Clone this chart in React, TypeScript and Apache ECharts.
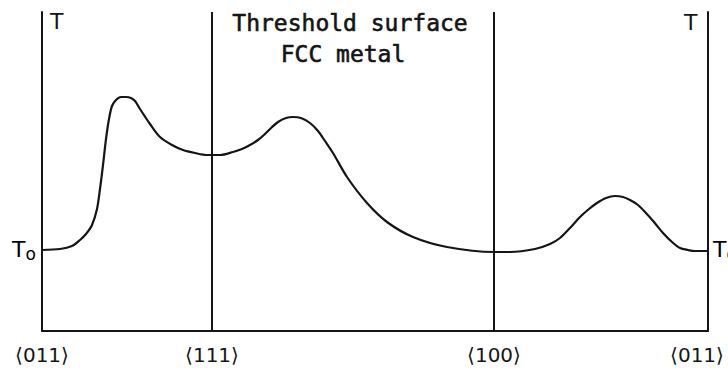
import React, { useEffect, useRef } from "react";
import * as echarts from "echarts";

// Orientation positions along the stereographic triangle edge (arbitrary units)
const orientationPositions = [0, 170, 452, 666];
const orientationLabels = ["⟨011⟩", "⟨111⟩", "⟨100⟩", "⟨011⟩"];

// Threshold energy curve (arbitrary units, T0 ≈ 81)
const curveX = [
  0, 18, 30, 38, 44, 50, 55, 58, 61, 64, 67, 70, 74, 79, 84, 89, 93, 98, 108, 118, 130, 141, 153, 165,
  178, 191, 200, 208, 216, 223, 229, 236, 244, 251, 259, 268, 276, 283, 291, 305, 325, 345, 371, 405, 452,
  468, 493, 508, 518, 528, 538, 547, 555, 564, 573, 581, 588, 596, 603, 612, 621, 630, 638, 646, 653, 666,
];
const curveY = [
  81, 82, 85, 91, 97, 106, 122, 142, 166, 192, 212, 225, 231, 234, 234, 233, 230, 222, 207, 194, 186, 181, 178, 176,
  176, 179, 182, 186, 191, 197, 203, 209, 213, 214, 213, 208, 200, 190, 178, 154, 128, 109, 94, 84, 79,
  79, 82, 87, 93, 103, 114, 122, 128, 133, 135, 134, 131, 126, 119, 109, 98, 89, 83, 81, 80, 80,
];

const title1 = "Threshold surface";
const title2 = "FCC metal";

export default function App() {
  const ref = useRef<HTMLDivElement>(null);
  useEffect(() => {
    if (!ref.current) return;
    const chart = echarts.init(ref.current, undefined, { renderer: "svg" });
    const ink = "#151515";
    const data = curveX.map((x, i) => [x, curveY[i]]);
    const t0Rich = {
      a: { fontFamily: "DejaVu Sans", fontSize: 22, color: ink },
      b: { fontFamily: "DejaVu Sans", fontSize: 17, color: ink, padding: [9, 0, 0, 0] },
    };
    const lastIdx = orientationPositions.length - 1;
    chart.setOption({
      animation: false,
      backgroundColor: "#ffffff",
      grid: { left: 42, right: 20, top: 12, bottom: 41, outerBoundsMode: "none", containLabel: false },
      xAxis: {
        type: "value",
        min: 0,
        max: 666,
        axisLine: { show: true, onZero: false, lineStyle: { color: ink, width: 2 } },
        axisTick: { show: false },
        splitLine: { show: false },
        axisLabel: {
          customValues: orientationPositions,
          formatter: (v: number) => {
            const i = orientationPositions.indexOf(v);
            if (i < 0) return "";
            return i === lastIdx ? `{r|${orientationLabels[i]}}` : orientationLabels[i];
          },
          rich: {
            r: { fontFamily: "DejaVu Sans", fontSize: 20, color: ink, padding: [0, 22, 0, 0] },
          },
          fontFamily: "DejaVu Sans",
          fontSize: 20,
          color: ink,
          margin: 14,
          hideOverlap: false,
          showMinLabel: true,
          showMaxLabel: true,
        },
      },
      yAxis: [
        {
          type: "value",
          min: 0,
          max: 319,
          position: "left",
          axisLine: { show: true, lineStyle: { color: ink, width: 2 } },
          axisTick: { show: false },
          axisLabel: { show: false },
          splitLine: { show: false },
        },
        {
          type: "value",
          min: 0,
          max: 319,
          position: "right",
          axisLine: { show: true, lineStyle: { color: ink, width: 2 } },
          axisTick: { show: false },
          axisLabel: { show: false },
          splitLine: { show: false },
        },
      ],
      series: [
        {
          type: "line",
          data,
          smooth: 0.3,
          symbol: "none",
          lineStyle: { color: ink, width: 2.2 },
          markLine: {
            silent: true,
            symbol: "none",
            label: { show: false },
            lineStyle: { color: ink, width: 2, type: "solid" },
            data: [{ xAxis: orientationPositions[1] }, { xAxis: orientationPositions[2] }],
          },
        },
      ],
      graphic: [
        {
          type: "text",
          left: 50,
          top: 10,
          style: { text: "T", font: "22px DejaVu Sans", fill: ink },
        },
        {
          type: "text",
          left: 684,
          top: 11,
          style: { text: "T", font: "22px DejaVu Sans", fill: ink },
        },
        {
          type: "text",
          left: 12,
          top: 238,
          style: { text: "{a|T}{b|o}", rich: t0Rich },
        },
        {
          type: "text",
          left: 713,
          top: 238,
          style: { text: "{a|T}{b|o}", rich: t0Rich },
        },
        {
          type: "text",
          x: 350,
          y: 23,
          style: {
            text: title1,
            font: "23px DejaVu Sans Mono",
            fill: ink,
            stroke: ink,
            lineWidth: 0.6,
            align: "center",
            verticalAlign: "middle",
          },
        },
        {
          type: "text",
          x: 343,
          y: 54,
          style: {
            text: title2,
            font: "23px DejaVu Sans Mono",
            fill: ink,
            stroke: ink,
            lineWidth: 0.6,
            align: "center",
            verticalAlign: "middle",
          },
        },
      ],
    });
    return () => chart.dispose();
  }, []);
  return (
    <div
      ref={ref}
      style={{ position: "fixed", left: 0, top: 0, width: 728, height: 372, background: "#fff" }}
    />
  );
}
